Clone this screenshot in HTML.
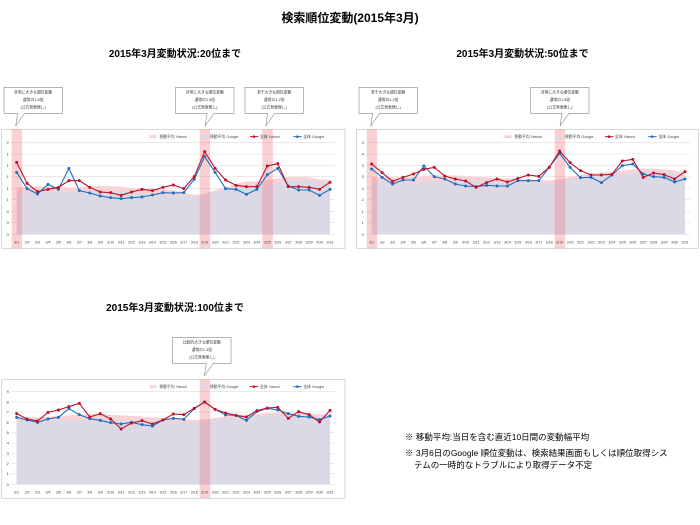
<!DOCTYPE html>
<html><head><meta charset="utf-8"><style>
body{margin:0;width:700px;height:525px;background:#fff;font-family:"Liberation Sans","Noto Sans CJK JP",sans-serif;position:relative;overflow:hidden}
.t{position:absolute;white-space:nowrap;color:#000}
svg{position:absolute;left:0;top:0}
</style></head><body>
<div class="t" style="left:0;width:700px;text-align:center;top:9px;font-size:12px;font-weight:bold">検索順位変動(2015年3月)</div>
<div class="t" style="left:0;width:350px;text-align:center;top:45px;font-size:10px;font-weight:bold">2015年3月変動状況:20位まで</div>
<div class="t" style="left:350px;width:345px;text-align:center;top:45px;font-size:10px;font-weight:bold">2015年3月変動状況:50位まで</div>
<div class="t" style="left:0;width:350px;text-align:center;top:299px;font-size:10px;font-weight:bold">2015年3月変動状況:100位まで</div>
<div class="t" style="left:405px;top:431px;font-size:8.5px">※ 移動平均:当日を含む直近10日間の変動幅平均</div>
<div class="t" style="left:405px;top:447px;font-size:8.5px;line-height:12px">※ 3月6日のGoogle 順位変動は、検索結果画面もしくは順位取得シス<br><span style="padding-left:9px">テムの一時的なトラブルにより取得データ不定</span></div>
<svg id="s" width="700" height="525" xmlns="http://www.w3.org/2000/svg"></svg>
<script>
var S=document.getElementById('s'),h='';
function C(o){
 var X=function(zx){return o.x0+zx/3},Y=function(zy){return o.y0+zy/3};
 var bx=o.x0+o.bx1/3,by=o.y0+148/3,bw=(o.bx2-o.bx1)/3,bh=357/3;
 h+='<rect x="'+bx+'" y="'+by+'" width="'+bw+'" height="'+bh+'" fill="#fff" stroke="#ccc" stroke-width="0.8"/>';
 var n=o.grid.length;
 for(var i=0;i<n;i++){h+='<line x1="'+X(35)+'" x2="'+X(1005)+'" y1="'+Y(o.grid[i])+'" y2="'+Y(o.grid[i])+'" stroke="#ddd" stroke-width="0.6"/>';
  h+='<text x="'+X(20)+'" y="'+(Y(o.grid[i])+1.5)+'" font-size="4" fill="#444">'+o.lab[i]+'</text>';}
 var px=function(i){return X(50+i*(940/30))};
 var base=Y(463);
 function area(a,c){var p='M'+px(0)+','+base;for(var i=0;i<31;i++)p+=' L'+px(i)+','+Y(a[i]);p+=' L'+px(30)+','+base+'Z';h+='<path d="'+p+'" fill="'+c+'"/>';}
 area(o.my,'#f8d3d6');area(o.mg,'#dcd8e6');
 o.hl.forEach(function(i){h+='<rect x="'+(px(i)-5)+'" y="'+by+'" width="10.5" height="'+bh+'" fill="rgba(242,120,130,0.35)"/>';});
 function line(a,c){var p='';for(var i=0;i<31;i++)p+=(i?' L':'M')+px(i)+','+Y(a[i]);h+='<path d="'+p+'" fill="none" stroke="'+c+'" stroke-width="1.1"/>';
  for(i=0;i<31;i++)h+='<circle cx="'+px(i)+'" cy="'+Y(a[i])+'" r="1.5" fill="'+c+'"/>';}
 line(o.gg,'#1f6fbf');line(o.yy,'#c0102a');
 for(var i=0;i<31;i++)h+='<text x="'+px(i)+'" y="'+Y(490)+'" font-size="3.6" fill="#444" text-anchor="middle">3/'+(i+1)+'</text>';
 var ly=Y(170);
 h+='<rect x="'+X(448)+'" y="'+(ly-1.5)+'" width="7" height="3" fill="#f8d3d6"/><text x="'+X(478)+'" y="'+(ly+1.3)+'" font-size="3.8" fill="#444">移動平均 Yahoo!</text>';
 h+='<rect x="'+X(600)+'" y="'+(ly-1.5)+'" width="8" height="3" fill="#dcd8e6"/><text x="'+X(630)+'" y="'+(ly+1.3)+'" font-size="3.8" fill="#444">移動平均 Google</text>';
 h+='<line x1="'+X(750)+'" x2="'+X(775)+'" y1="'+ly+'" y2="'+ly+'" stroke="#c0102a"/><circle cx="'+X(762)+'" cy="'+ly+'" r="1.3" fill="#c0102a"/><text x="'+X(780)+'" y="'+(ly+1.3)+'" font-size="3.8" fill="#444">全体 Yahoo!</text>';
 h+='<line x1="'+X(880)+'" x2="'+X(905)+'" y1="'+ly+'" y2="'+ly+'" stroke="#1f6fbf"/><circle cx="'+X(892)+'" cy="'+ly+'" r="1.3" fill="#1f6fbf"/><text x="'+X(910)+'" y="'+(ly+1.3)+'" font-size="3.8" fill="#444">全体 Google</text>';
 o.co.forEach(function(c){var x1=X(c[0]),x2=X(c[0]+175),y1=Y(22),y2=Y(100),tx=X(c[1]);
  h+='<path d="M'+x1+','+y1+' H'+x2+' V'+y2+' H'+(tx+8)+' L'+(tx-1)+','+Y(138)+' L'+(tx+1)+','+y2+' H'+x1+'Z" fill="#fff" stroke="#888" stroke-width="0.6"/>';
  var cx=(x1+x2)/2;
  h+='<text x="'+cx+'" y="'+(y1+6)+'" font-size="3.8" text-anchor="middle" fill="#333">'+c[2]+'</text><text x="'+cx+'" y="'+(y1+13.5)+'" font-size="3.8" text-anchor="middle" fill="#333">'+c[3]+'</text><text x="'+cx+'" y="'+(y1+21)+'" font-size="3.8" text-anchor="middle" fill="#333">(公式発表無し)</text>';});
}
var g1=[187,222,256,290,325,359,394,428,463];
C({x0:0,y0:80,bx1:5,bx2:1035,grid:g1,lab:['2','1','1','1','1','1','0','0','0'],hl:[0,18,24],
yy:[247,310,335,328,322,302,302,322,336,338,346,336,328,332,322,315,326,290,215,265,300,316,320,320,258,251,320,320,322,328,307],
gg:[277,326,342,313,328,265,332,339,348,353,356,353,351,345,338,339,338,298,230,277,326,328,343,328,284,265,318,330,330,346,328],
my:[322,320,320,320,320,322,322,318,318,318,320,325,326,326,328,330,338,345,342,330,322,312,305,304,300,295,290,290,292,298,300],
mg:[340,338,336,335,335,334,335,334,334,335,336,340,342,342,344,345,348,350,345,335,326,318,315,314,312,308,302,300,300,305,320],
co:[[12,50,'非常に大きな順位変動','通常の1.5倍'],[527,618,'非常に大きな順位変動','通常の1.5倍'],[735,800,'若干大きな順位変動','通常の1.2倍']]});
C({x0:355,y0:80,bx1:5,bx2:1030,grid:g1,lab:['4','4','3','3','2','2','1','1','0'],hl:[0,18],
yy:[252,278,304,292,282,268,262,288,297,303,322,308,297,306,295,285,289,262,213,248,272,285,285,283,243,238,292,279,284,297,275],
gg:[267,292,312,300,300,258,290,297,312,318,320,316,318,318,302,302,302,262,220,262,293,292,308,285,257,252,282,290,292,306,297],
my:[290,290,292,292,290,288,286,286,286,288,290,292,294,295,296,298,300,302,298,290,285,280,278,276,272,268,266,266,268,272,276],
mg:[302,302,303,304,305,305,304,303,302,302,304,306,307,307,308,308,310,310,305,296,292,290,288,286,282,278,276,275,276,280,285],
co:[[12,50,'若干大きな順位変動','通常の1.2倍'],[527,618,'非常に大きな順位変動','通常の1.5倍']]});
C({x0:0,y0:330,bx1:5,bx2:1035,grid:[185,216,246,277,308,339,370,400,431,463],lab:['9','8','7','6','5','4','3','2','1','0'],hl:[18],
yy:[251,267,273,247,240,230,220,261,251,267,297,279,272,282,270,252,254,235,216,238,249,256,261,242,234,232,265,245,254,276,241],
gg:[262,270,277,267,262,236,254,266,271,278,282,277,284,288,270,265,268,236,216,238,255,256,271,245,235,240,251,259,261,269,258],
my:[260,262,262,260,258,256,254,252,252,254,256,258,260,262,264,266,268,270,268,264,260,256,254,252,250,248,248,248,250,252,252],
mg:[270,271,272,272,271,270,268,267,267,268,270,272,273,274,275,276,277,276,272,268,265,262,260,258,256,255,255,256,258,260,260],
co:[[518,616,'比較的大きな順位変動','通常の1.3倍']]});
S.innerHTML=h;
</script>
</body></html>
